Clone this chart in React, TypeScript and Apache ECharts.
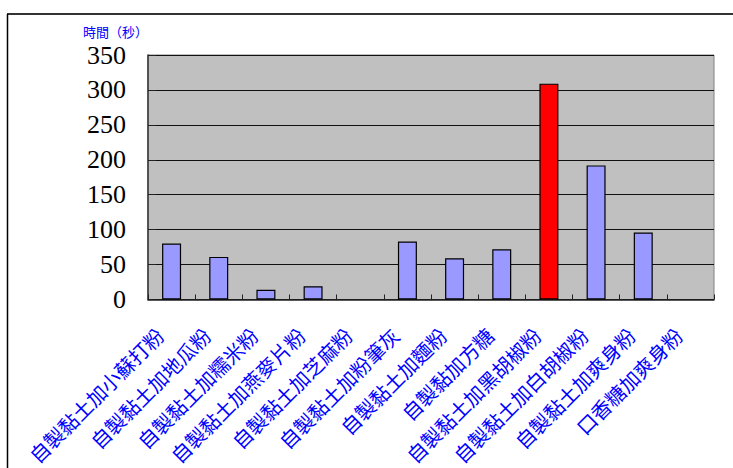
import React, { useEffect, useRef } from "react";
import * as echarts from "echarts";

// Categories along the x axis
const categories: string[] = [
  "自製黏土加小蘇打粉",
  "自製黏土加地瓜粉",
  "自製黏土加糯米粉",
  "自製黏土加燕麥片粉",
  "自製黏土加芝麻粉",
  "自製黏土加粉筆灰",
  "自製黏土加麵粉",
  "自製黏加方糖",
  "自製黏土加黑胡椒粉",
  "自製黏土加白胡椒粉",
  "自製黏土加爽身粉",
  "口香糖加爽身粉",
];

// Time in seconds for each mixture
const seconds: number[] = [80, 61, 14, 19, 0, 83, 59, 72, 309, 192, 96, 0];

// Index of the highlighted (longest) bar
const highlightIndex = 8;

const yTitle = "時間（秒）";

export default function App() {
  const ref = useRef<HTMLDivElement>(null);

  useEffect(() => {
    document.body.style.margin = "0";
    if (!ref.current) return;
    const chart = echarts.init(ref.current, undefined, { renderer: "svg" });

    chart.setOption({
      animation: false,
      backgroundColor: "#FFFFFF",
      grid: {
        left: 148,
        right: 19,
        top: 55,
        bottom: 168,
        show: true,
        backgroundColor: "#C0C0C0",
        borderColor: "#808080",
        borderWidth: 1,
      },
      graphic: [
        {
          type: "line",
          shape: { x1: 7, y1: 14, x2: 733, y2: 14 },
          style: { stroke: "#333333", lineWidth: 2 },
        },
        {
          type: "line",
          shape: { x1: 7.5, y1: 14, x2: 7.5, y2: 468 },
          style: { stroke: "#000000", lineWidth: 1.5 },
        },
        {
          type: "text",
          x: 83,
          y: 31,
          style: {
            text: yTitle,
            fill: "#0000FF",
            fontSize: 13,
            fontFamily: "Noto Sans CJK TC",
            verticalAlign: "middle",
            align: "left",
          },
        },
      ],
      xAxis: {
        type: "category",
        data: categories,
        boundaryGap: true,
        axisLine: { show: true, lineStyle: { color: "#222222", width: 1.5 } },
        axisTick: {
          show: true,
          inside: true,
          length: 5,
          lineStyle: { color: "#222222" },
        },
        axisLabel: {
          interval: 0,
          rotate: 45,
          margin: 20,
          padding: [0, 17, 0, 0],
          color: "#0000FF",
          fontFamily: "Noto Sans CJK TC",
          fontSize: 20,
        },
      },
      yAxis: {
        type: "value",
        min: 0,
        max: 350,
        interval: 50,
        axisLine: { show: true, lineStyle: { color: "#333333", width: 1.5 } },
        axisTick: {
          show: true,
          inside: true,
          length: 8,
          lineStyle: { color: "#222222" },
        },
        splitLine: { show: true, lineStyle: { color: "#111111", width: 1 } },
        axisLabel: {
          margin: 22,
          color: "#000000",
          fontFamily: "Liberation Serif, serif",
          fontSize: 26,
          lineHeight: 26,
        },
      },
      series: [
        {
          type: "bar",
          data: seconds.map((v, i) => ({
            value: v,
            itemStyle: {
              color: i === highlightIndex ? "#FF0000" : "#9999FF",
              borderWidth: v === 0 ? 0 : 1.2,
            },
          })),
          barWidth: 19,
          itemStyle: { borderColor: "#000000", borderWidth: 1.2 },
        },
      ],
    });

    return () => chart.dispose();
  }, []);

  return <div ref={ref} style={{ width: 733, height: 468 }} />;
}
